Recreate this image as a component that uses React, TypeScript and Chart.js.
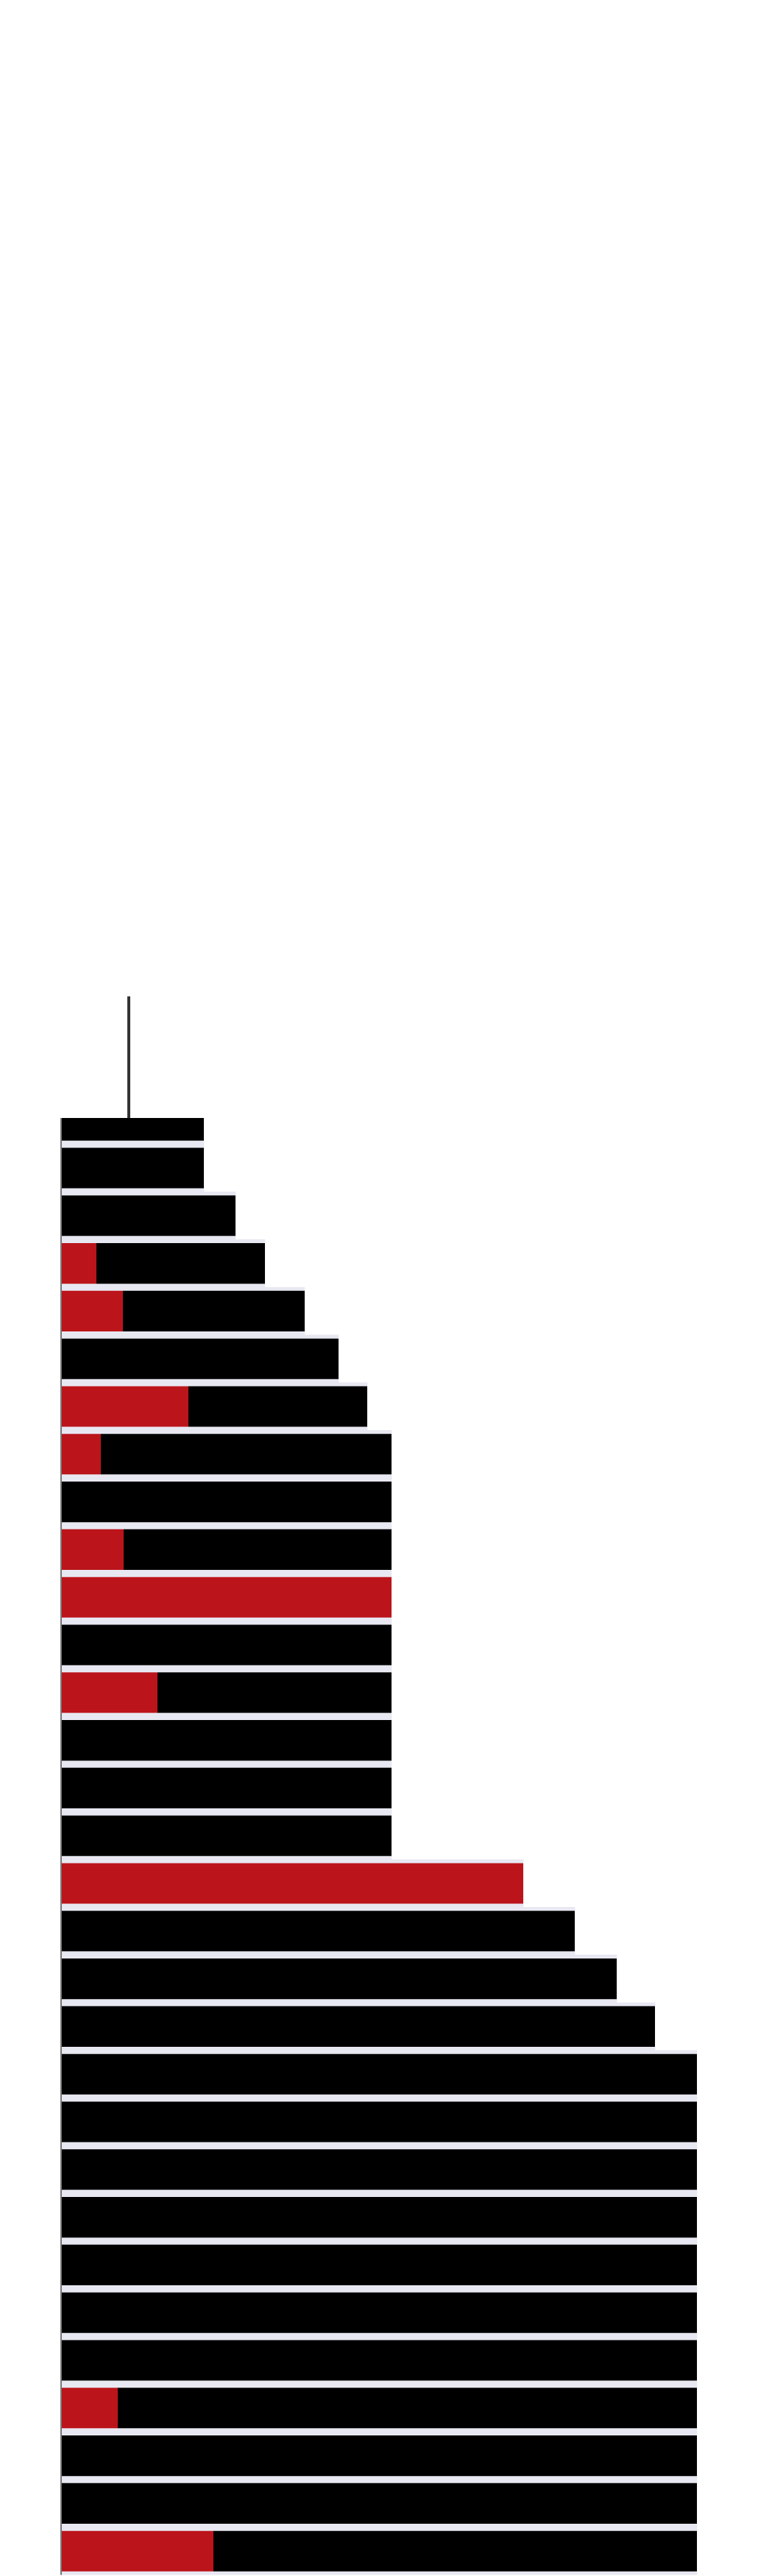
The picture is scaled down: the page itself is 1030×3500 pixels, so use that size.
import React, { useEffect, useRef } from "react";
import { Chart, registerables } from "chart.js";
Chart.register(...registerables);

const floors = ["cap", ...Array.from({ length: 30 }, (_, i) => `F${30 - i}`)];
const totalWidth = [195, 195, 238, 278, 332, 378, 417, 450, 450, 450, 450, 450, 450, 450, 450, 450, 629, 699, 756, 808, 865, 865, 865, 865, 865, 865, 865, 865, 865, 865, 865];
const redWidth = [0, 0, 0, 49, 85, 0, 174, 55, 0, 86, 450, 0, 132, 0, 0, 0, 629, 0, 0, 0, 0, 0, 0, 0, 0, 0, 0, 78, 0, 0, 208];
const blackWidth = totalWidth.map((t, i) => t - redWidth[i]);
const spikeX = 93;
const spikeRows = 2.55;

export default function App() {
  const ref = useRef<HTMLCanvasElement>(null);
  useEffect(() => {
    document.body.style.margin = "0";
    const capClip = {
      id: "capClip",
      beforeDatasetsDraw(chart: any) {
        const ctx = chart.ctx;
        const y = chart.scales.y;
        const top = y.getPixelForValue(0) - y.height / floors.length * 0.05;
        ctx.save();
        ctx.beginPath();
        ctx.rect(0, top, chart.width, chart.height);
        ctx.clip();
      },
      afterDatasetsDraw(chart: any) {
        const ctx = chart.ctx;
        ctx.restore();
        const x = chart.scales.x;
        const y = chart.scales.y;
        const row = y.height / floors.length;
        const top = y.getPixelForValue(0) - row * 0.05;
        const px = x.getPixelForValue(spikeX);
        ctx.save();
        ctx.strokeStyle = "#333";
        ctx.lineWidth = 4;
        ctx.beginPath();
        ctx.moveTo(px, top);
        ctx.lineTo(px, top - row * spikeRows);
        ctx.stroke();
        ctx.strokeStyle = "#777";
        ctx.lineWidth = 2;
        ctx.beginPath();
        ctx.moveTo(x.left + 1, top);
        ctx.lineTo(x.left + 1, chart.chartArea.bottom);
        ctx.stroke();
        ctx.restore();
      },
    };
    const chart = new Chart(ref.current!, {
      type: "bar",
      data: {
        labels: floors,
        datasets: [
          { label: "bg", data: totalWidth, backgroundColor: "#e8e8f2", stack: "bg", order: 2, grouped: false, barPercentage: 1, categoryPercentage: 1 },
          { label: "red", data: redWidth, backgroundColor: "#bb141b", stack: "main", order: 1, grouped: false, barPercentage: 0.85, categoryPercentage: 1 },
          { label: "black", data: blackWidth, backgroundColor: "#000000", stack: "main", order: 1, grouped: false, barPercentage: 0.85, categoryPercentage: 1 },
        ],
      },
      options: {
        indexAxis: "y",
        animation: false,
        responsive: true,
        maintainAspectRatio: false,
        layout: { padding: { top: 1489.8, bottom: 1.4, left: 82, right: 0 } },
        plugins: { legend: { display: false }, tooltip: { enabled: false } },
        scales: {
          x: { display: false, stacked: true, min: 0, max: 948 },
          y: { display: false, stacked: true },
        },
      },
      plugins: [capClip],
    });
    return () => chart.destroy();
  }, []);
  return (
    <div style={{ width: 1030, height: 3500, position: "relative" }}>
      <canvas ref={ref} />
    </div>
  );
}
